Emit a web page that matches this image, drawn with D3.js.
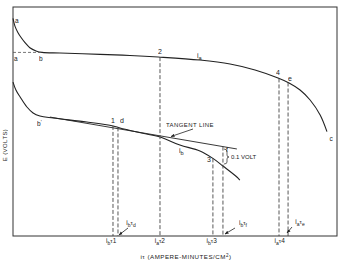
<!DOCTYPE html>
<html><head><meta charset="utf-8">
<script src="https://cdn.jsdelivr.net/npm/d3@7/dist/d3.min.js"></script>
<style>body{margin:0;background:#fff}svg{display:block}text{font-family:"Liberation Sans",Arial,sans-serif;fill:#222;opacity:0.999}</style>
</head><body>
<script>
// it (ampere-minutes/cm2), arbitrary units; E (volts)
const upperIt = [0,0.06,0.15,0.25,0.37,0.52,0.71,0.9,1.45,2.69,3.61,4.48,5.77,6.70,7.47,8.18,8.52,8.86,9.17,9.48,9.69];
const upperE  = [-0.09,-0.15,-0.20,-0.24,-0.28,-0.32,-0.345,-0.357,-0.362,-0.372,-0.381,-0.393,-0.417,-0.448,-0.495,-0.558,-0.597,-0.652,-0.731,-0.849,-0.98];
const lowerIt = [0,0.09,0.22,0.43,0.62,0.83,1.24,2.28,3.09,3.30,3.83,4.54,5.15,5.77,6.17,6.48,6.91,7.0];
const lowerE  = [-0.59,-0.652,-0.707,-0.786,-0.833,-0.857,-0.873,-0.904,-0.935,-0.951,-0.983,-1.022,-1.085,-1.132,-1.19,-1.25,-1.336,-1.36];
const tangentIt = [1.14,6.91];
const tangentE  = [-0.865,-1.116];
// dashed markers: it value, which curve it drops from
const markerIt    = [3.086,3.24,4.537,6.17,6.48,8.21,8.49];
const markerCurve = ["lower","lower","upper","lower","tangent","upper","upper"];
const markerNames = ["1","d","2","3","f","4","e"];
const axisLabelSub = ["b","a","b","a"];
const axisLabelNum = ["1","2","3","4"];
const axisLabelIt  = [3.0,4.5,6.1,8.2];

const W=344,H=264;
const svg=d3.select("body").append("svg").attr("width",W).attr("height",H);
const x=d3.scaleLinear([0,10],[13,337]);
const y=d3.scaleLinear([-1.8,0],[236,7]);
const ink="#222";

// frame
svg.append("rect").attr("x",x(0)).attr("y",y(0)).attr("width",x(10)-x(0)).attr("height",y(-1.8)-y(0))
  .attr("fill","none").attr("stroke","#333").attr("stroke-width",1);

const line=d3.line().x(d=>x(d[0])).y(d=>y(d[1])).curve(d3.curveCatmullRom);
const up=upperIt.map((v,i)=>[v,upperE[i]]);
const lo=lowerIt.map((v,i)=>[v,lowerE[i]]);
const tg=tangentIt.map((v,i)=>[v,tangentE[i]]);
svg.append("path").attr("d",line(up)).attr("fill","none").attr("stroke",ink).attr("stroke-width",1.1);
svg.append("path").attr("d",line(lo)).attr("fill","none").attr("stroke",ink).attr("stroke-width",1.1);
svg.append("path").attr("d",d3.line().x(d=>x(d[0])).y(d=>y(d[1]))(tg)).attr("fill","none").attr("stroke",ink).attr("stroke-width",0.9);

// interpolation helper
function interp(xs,ys,v){for(let i=0;i<xs.length-1;i++){if(v>=xs[i]&&v<=xs[i+1]){const t=(v-xs[i])/(xs[i+1]-xs[i]);return ys[i]+t*(ys[i+1]-ys[i]);}}return ys[ys.length-1];}
const curves={upper:[upperIt,upperE],lower:[lowerIt,lowerE],tangent:[tangentIt,tangentE]};
const mTop=markerIt.map((v,i)=>interp(curves[markerCurve[i]][0],curves[markerCurve[i]][1],v));

// horizontal dashed at b level
svg.append("line").attr("x1",x(0)).attr("x2",x(0.9)).attr("y1",y(upperE[7])).attr("y2",y(upperE[7]))
  .attr("stroke","#555").attr("stroke-width",0.8).attr("stroke-dasharray","3,2");

markerIt.forEach((v,i)=>{
  svg.append("line").attr("x1",x(v)).attr("x2",x(v)).attr("y1",y(mTop[i])).attr("y2",y(-1.8))
    .attr("stroke","#444").attr("stroke-width",0.9).attr("stroke-dasharray","4,2");
});

function txt(t,px,py,size,anchor){return svg.append("text").attr("x",px).attr("y",py).attr("font-size",size).attr("text-anchor",anchor||"start").text(t);}

// point labels
const off={"1":[0,-3],"d":[4,-4],"2":[0,-3],"3":[-4,4],"f":[4,5],"4":[-1,-3],"e":[2,-2]};
markerNames.forEach((n,i)=>{const o=off[n];txt(n,x(markerIt[i])+o[0],y(mTop[i])+o[1],7,"middle");});
txt("a",15,23,6.5); txt("a",14,61,6.5); txt("b",39,61,6.5);
txt("c",331,141,6.5,"middle");
const bp=txt("b",37,126,6.5); bp.append("tspan").attr("font-size",5).attr("dy",-2).text("'");

function subLabel(base,sub,px,py,size){const t=svg.append("text").attr("x",px).attr("y",py).attr("font-size",size);
  t.append("tspan").text(base);t.append("tspan").attr("font-size",size*0.8).attr("dy",size*0.35).text(sub);return t;}
subLabel("i","a",197,58,7);
subLabel("i","b",179,153,7);

// tangent line label + arrow
svg.append("defs").append("marker").attr("id","ah").attr("viewBox","0 0 10 10").attr("refX",9).attr("refY",5)
  .attr("markerWidth",5).attr("markerHeight",5).attr("orient","auto")
  .append("path").attr("d","M0,1L10,5L0,9Z").attr("fill",ink);
txt("TANGENT LINE",166,127,6).attr("letter-spacing",0.4);
function arrow(x1,y1,x2,y2){svg.append("line").attr("x1",x1).attr("y1",y1).attr("x2",x2).attr("y2",y2)
  .attr("stroke",ink).attr("stroke-width",0.8).attr("marker-end","url(#ah)");}
arrow(193,129,171,136.5);

// 0.1 volt brace
svg.append("path").attr("d","M224,149 Q227,149 227,152 L227,155 Q227,157 229,157 Q227,157 227,159 L227,162 Q227,164 224,164")
  .attr("fill","none").attr("stroke",ink).attr("stroke-width",0.7);
txt("0.1 VOLT",231,159,6);

// bottom labels
function tauLabel(sub,num,px,py,numSub){const t=svg.append("text").attr("x",px).attr("y",py).attr("font-size",6.5).attr("text-anchor","middle");
  t.append("tspan").text("i");t.append("tspan").attr("font-size",5).attr("dy",2).text(sub);
  t.append("tspan").attr("font-size",6).attr("dy",-2).text("τ");
  if(numSub){t.append("tspan").attr("font-size",5).attr("dy",2).text(num);}else{t.append("tspan").text(num);}
  return t;}
axisLabelIt.forEach((v,i)=>tauLabel(axisLabelSub[i],axisLabelNum[i],x(v)+1,243,false));
tauLabel("b","d",131,225,true); arrow(128,228,119,235);
tauLabel("b","f",243,225,true); arrow(235,228,225,234);
tauLabel("a","e",300,224,true); arrow(292,227,287,233);

// axis titles
const xt=svg.append("text").attr("x",186).attr("y",259).attr("font-size",6.2).attr("text-anchor","middle").attr("letter-spacing",0.5);
xt.append("tspan").text("iτ (AMPERE-MINUTES/CM");xt.append("tspan").attr("font-size",4.5).attr("dy",-2).text("2");xt.append("tspan").attr("dy",2).text(")");
svg.append("text").attr("transform","translate(7,145) rotate(-90)").attr("font-size",6).attr("text-anchor","middle").attr("letter-spacing",0.4).text("E (VOLTS)");
</script>
</body></html>
